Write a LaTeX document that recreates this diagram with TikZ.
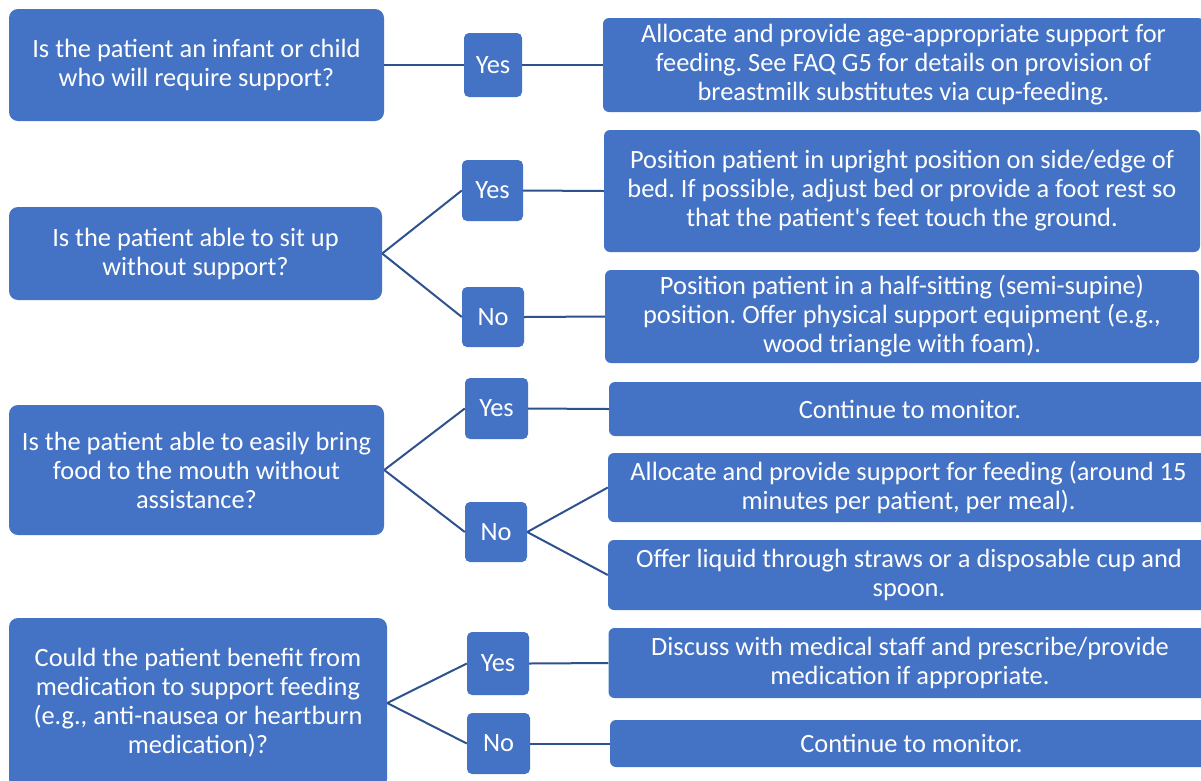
\documentclass[tikz,border=0pt]{standalone}
\usepackage{fontspec}
\setmainfont{Carlito}
\frenchspacing
\definecolor{boxblue}{HTML}{4472C4}
\definecolor{linkblue}{HTML}{2F528F}
\tikzset{
  box/.style={fill=boxblue, text=white, align=center, inner sep=0pt, font=\fontsize{26.4}{29}\selectfont},
  question/.style={box, rounded corners=9pt},
  answer/.style={box, rounded corners=5pt},
  action/.style={box, rounded corners=6pt},
  link/.style={draw=linkblue, line width=2pt}
}
\begin{document}
\begin{tikzpicture}[x=1pt,y=-1pt]

\clip (0,0) rectangle (1201,780);
\fill [white] (0,0) rectangle (1201,780);

\coordinate (infant-label) at (196.5,65);
\coordinate (sit-label) at (195.5,253.5);
\coordinate (food-label) at (196.5,470);
\coordinate (medication-label) at (198,703);

\coordinate (infant-yes-label) at (493,65);
\coordinate (sit-yes-label) at (492.5,190.5);
\coordinate (sit-no-label) at (493,317);
\coordinate (food-yes-label) at (496.5,408.5);
\coordinate (food-no-label) at (496,532);
\coordinate (medication-yes-label) at (498,663.5);
\coordinate (medication-no-label) at (498.5,743.5);

\coordinate (age-support-label) at (903.5,65);
\coordinate (upright-label) at (902,191);
\coordinate (half-sitting-label) at (902,316.5);
\coordinate (monitor-food-label) at (910,409);
\coordinate (feeding-help-label) at (908.5,487.5);
\coordinate (straws-label) at (909,575);
\coordinate (discuss-label) at (910,663);
\coordinate (monitor-medication-label) at (911.5,743.5);

\node [question, minimum width=375pt, minimum height=112pt] (infant) at (infant-label) {Is the patient an infant or child\\who will require support?};
\node [question, minimum width=373pt, minimum height=93pt] (sit) at (sit-label) {Is the patient able to sit up\\without support?};
\node [question, minimum width=375pt, minimum height=130pt] (food) at (food-label) {Is the patient able to easily bring\\food to the mouth without\\assistance?};
\node [question, minimum width=378pt, minimum height=170pt] (medication) at (medication-label) {Could the patient benefit from\\medication to support feeding\\(e.g., anti-nausea or heartburn\\medication)?};

\node [answer, minimum width=58pt, minimum height=64pt] (infant-yes) at (infant-yes-label) {Yes};
\node [answer, minimum width=61pt, minimum height=61pt] (sit-yes) at (sit-yes-label) {Yes};
\node [answer, minimum width=62pt, minimum height=60pt] (sit-no) at (sit-no-label) {No};
\node [answer, minimum width=63pt, minimum height=61pt] (food-yes) at (food-yes-label) {Yes};
\node [answer, minimum width=62pt, minimum height=60pt] (food-no) at (food-no-label) {No};
\node [answer, minimum width=62pt, minimum height=63pt] (medication-yes) at (medication-yes-label) {Yes};
\node [answer, minimum width=63pt, minimum height=61pt] (medication-no) at (medication-no-label) {No};

\node [action, minimum width=601pt, minimum height=94pt] (age-support) at (age-support-label) {Allocate and provide age-appropriate support for\\feeding. See FAQ G5 for details on provision of\\breastmilk substitutes via cup-feeding.};
\node [action, minimum width=596pt, minimum height=122pt] (upright) at (upright-label) {Position patient in upright position on side/edge of\\bed. If possible, adjust bed or provide a foot rest so\\that the patient\textquotesingle s feet touch the ground.};
\node [action, minimum width=594pt, minimum height=93pt] (half-sitting) at (half-sitting-label) {Position patient in a half-sitting (semi-supine)\\position. Offer physical support equipment (e.g.,\\wood triangle with foam).};
\node [action, minimum width=602pt, minimum height=54pt] (monitor-food) at (monitor-food-label) {Continue to monitor.};
\node [action, minimum width=601pt, minimum height=69pt] (feeding-help) at (feeding-help-label) {Allocate and provide support for feeding (around 15\\minutes per patient, per meal).};
\node [action, minimum width=602pt, minimum height=70pt] (straws) at (straws-label) {Offer liquid through straws or a disposable cup and\\spoon.};
\node [action, minimum width=603pt, minimum height=70pt] (discuss) at (discuss-label) {Discuss with medical staff and prescribe/provide\\medication if appropriate.};
\node [action, minimum width=603pt, minimum height=47pt] (monitor-medication) at (monitor-medication-label) {Continue to monitor.};

\draw [link] (infant.east) -- (infant-yes.west);
\draw [link] (infant-yes.east) -- (age-support.west);
\draw [link] (sit.east) -- (sit-yes.west);
\draw [link] (sit.east) -- (sit-no.west);
\draw [link] (sit-yes.east) -- (upright.west);
\draw [link] (sit-no.east) -- (half-sitting.west);
\draw [link] (food.east) -- (food-yes.west);
\draw [link] (food.east) -- (food-no.west);
\draw [link] (food-yes.east) -- (monitor-food.west);
\draw [link] (food-no.east) -- (feeding-help.west);
\draw [link] (food-no.east) -- (straws.west);
\draw [link] (medication.east) -- (medication-yes.west);
\draw [link] (medication.east) -- (medication-no.west);
\draw [link] (medication-yes.east) -- (discuss.west);
\draw [link] (medication-no.east) -- (monitor-medication.west);

\end{tikzpicture}
\end{document}
